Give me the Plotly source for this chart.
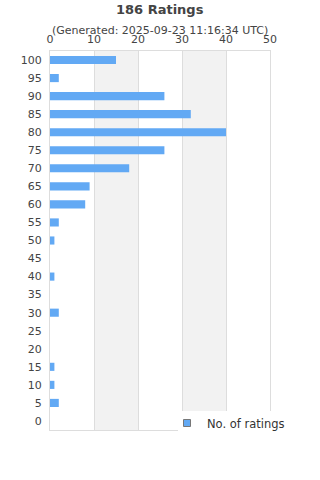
import plotly.graph_objects as go

ratings = [0, 5, 10, 15, 20, 25, 30, 35, 40, 45, 50, 55, 60, 65, 70, 75, 80, 85, 90, 95, 100]
counts = [0, 2, 1, 1, 0, 0, 2, 0, 1, 0, 1, 2, 8, 9, 18, 26, 40, 32, 26, 2, 15]
x_ticks = [0, 10, 20, 30, 40, 50]
title = "186 Ratings"
subtitle = "(Generated: 2025-09-23 11:16:34 UTC)"
series_name = "No. of ratings"

BAR = "#62a9f4"
fig = go.Figure()
fig.add_trace(go.Bar(
    y=ratings, x=counts, orientation="h", name=series_name,
    marker=dict(color=BAR, line=dict(width=0)),
    showlegend=False,
))
# legend entry (small square swatch)
fig.add_trace(go.Scatter(
    x=[None], y=[None], mode="markers", name=series_name,
    marker=dict(symbol="square", size=7, color=BAR, line=dict(width=1, color="#777")),
    showlegend=True,
))

W, H = 320, 480
L, R, T, B = 50, 50, 51, 50
pw, ph = W - L - R, H - T - B

def px_x(p):
    return (p - L) / pw

def px_y(p):
    return (H - B - p) / ph

shapes = []
for a, b in [(10, 20), (30, 40)]:
    shapes.append(dict(type="rect", xref="x", yref="paper", x0=a, x1=b, y0=0, y1=1,
                       fillcolor="#f2f2f2", line=dict(width=0), layer="below"))
# white legend panel overlapping the plot's lower-right corner
shapes.append(dict(type="rect", xref="paper", yref="paper",
                   x0=px_x(178), x1=px_x(W), y0=px_y(442), y1=px_y(411),
                   fillcolor="white", line=dict(width=0), layer="above"))

fig.update_layout(
    width=W, height=H,
    margin=dict(l=L, r=R, t=T, b=B),
    paper_bgcolor="white", plot_bgcolor="white",
    font=dict(family="DejaVu Sans", size=11, color="#444"),
    bargap=0.55,
    shapes=shapes,
    xaxis=dict(side="top", range=[0, 50], tickvals=x_ticks, showgrid=True,
               gridcolor="#dddddd", gridwidth=1, showline=True, linecolor="#dddddd",
               mirror=True, zeroline=False, ticks="", ticklen=0, ticklabelstandoff=3,
               tickfont=dict(size=11, color="#444"), fixedrange=True),
    yaxis=dict(range=[-2.5, 102.5], tickvals=ratings, showgrid=False, showline=True,
               linecolor="#dddddd", mirror=True, zeroline=False, ticks="outside",
               ticklen=5, tickcolor="rgba(0,0,0,0)",
               tickfont=dict(size=11, color="#444"), fixedrange=True),
    legend=dict(x=px_x(167), xanchor="left", y=px_y(423), yanchor="middle",
                bgcolor="rgba(0,0,0,0)", font=dict(size=11.5, color="#333"),
                itemwidth=30),
    annotations=[
        dict(text="<b>" + title + "</b>", x=0.5, xref="paper", y=1 + (T - 10) / ph,
             yref="paper", yanchor="middle", showarrow=False,
             font=dict(size=13, color="#444")),
        dict(text=subtitle, x=0.5, xref="paper", y=1 + (T - 30) / ph,
             yref="paper", yanchor="middle", showarrow=False,
             font=dict(size=11, color="#444")),
    ],
)

fig.write_html("out.html")
